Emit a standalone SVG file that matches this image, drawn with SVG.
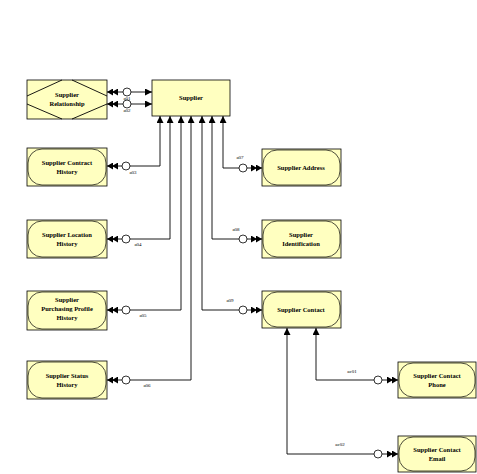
<svg xmlns="http://www.w3.org/2000/svg" width="477" height="474" viewBox="0 0 477 474">
<style>
.box{fill:#FFFFC0;stroke:#000;stroke-width:0.8}
.in{fill:#FFFFC0;stroke:#000;stroke-width:0.7}
.t{font-family:"Liberation Serif",serif;font-weight:bold;font-size:6.5px;text-anchor:middle;fill:#000}
.l{font-family:"Liberation Serif",serif;font-size:5px;text-anchor:middle;fill:#000}
.c{fill:none;stroke:#000;stroke-width:0.9}
.o{fill:#fff;stroke:#000;stroke-width:0.8}
</style>
<defs>
<marker id="dbl" viewBox="0 0 11 7" refX="11" refY="3.5" markerWidth="11" markerHeight="7" markerUnits="userSpaceOnUse" orient="auto-start-reverse">
<path d="M0,0 L6,3.5 L0,7 Z M5,0 L11,3.5 L5,7 Z" fill="#000"/>
</marker>
<marker id="one" viewBox="0 0 7 7" refX="7" refY="3.5" markerWidth="7" markerHeight="7" markerUnits="userSpaceOnUse" orient="auto-start-reverse">
<path d="M0,0 L7,3.5 L0,7 Z" fill="#000"/>
</marker>
</defs>
<rect width="477" height="474" fill="#fff"/>
<g id="connectors">
<path class="c" d="M107,92 L152,92" marker-start="url(#dbl)" marker-end="url(#one)"/>
<circle class="o" cx="127" cy="92" r="4"/>
<text class="l" x="127" y="100">a01</text>
<path class="c" d="M107,104 L152,104" marker-start="url(#dbl)" marker-end="url(#one)"/>
<circle class="o" cx="127" cy="104" r="4"/>
<text class="l" x="127" y="112">a02</text>
<path class="c" d="M160,116 L160,166 L107,166" marker-start="url(#one)" marker-end="url(#dbl)"/>
<circle class="o" cx="126" cy="166" r="4"/>
<text class="l" x="133" y="174">a03</text>
<path class="c" d="M170,116 L170,239 L107,239" marker-start="url(#one)" marker-end="url(#dbl)"/>
<circle class="o" cx="126" cy="239" r="4"/>
<text class="l" x="138" y="246">a04</text>
<path class="c" d="M181,116 L181,310 L107,310" marker-start="url(#one)" marker-end="url(#dbl)"/>
<circle class="o" cx="126" cy="310" r="4"/>
<text class="l" x="143" y="317">a05</text>
<path class="c" d="M191,116 L191,380 L107,380" marker-start="url(#one)" marker-end="url(#dbl)"/>
<circle class="o" cx="126" cy="380" r="4"/>
<text class="l" x="147" y="387">a06</text>
<path class="c" d="M223,116 L223,168 L262,168" marker-start="url(#one)" marker-end="url(#dbl)"/>
<circle class="o" cx="243" cy="168" r="4"/>
<text class="l" x="240" y="159">a07</text>
<path class="c" d="M212,116 L212,239 L262,239" marker-start="url(#one)" marker-end="url(#dbl)"/>
<circle class="o" cx="243" cy="239" r="4"/>
<text class="l" x="236" y="231">a08</text>
<path class="c" d="M202,116 L202,310 L262,310" marker-start="url(#one)" marker-end="url(#dbl)"/>
<circle class="o" cx="243" cy="310" r="4"/>
<text class="l" x="230" y="302">a09</text>
<path class="c" d="M316,328 L316,380 L398,380" marker-start="url(#one)" marker-end="url(#dbl)"/>
<circle class="o" cx="378" cy="380" r="4"/>
<text class="l" x="352" y="373">ac01</text>
<path class="c" d="M287,328 L287,454 L398,454" marker-start="url(#one)" marker-end="url(#dbl)"/>
<circle class="o" cx="378" cy="454" r="4"/>
<text class="l" x="340" y="446">ac02</text>
</g>
<g id="supplier-relationship">
<rect class="box" x="27" y="80" width="80" height="39"/>
<path class="c" d="M27,96 L62,80 M72,80 L107,96 M27,104 L62,119 M72,119 L107,104"/>
<text class="t" x="67" y="97">Supplier</text>
<text class="t" x="67" y="106">Relationship</text>
</g>
<g id="supplier">
<rect class="box" x="152" y="80" width="78" height="36"/>
<text class="t" x="191" y="100">Supplier</text>
</g>
<g id="supplier-contract-history">
<rect class="box" x="27" y="148" width="80" height="38"/>
<rect class="in" x="28" y="149" width="78" height="36" rx="14"/>
<text class="t" x="67" y="165">Supplier Contract</text>
<text class="t" x="67" y="174">History</text>
</g>
<g id="supplier-location-history">
<rect class="box" x="27" y="220" width="80" height="38"/>
<rect class="in" x="28" y="221" width="78" height="36" rx="14"/>
<text class="t" x="67" y="237">Supplier Location</text>
<text class="t" x="67" y="246">History</text>
</g>
<g id="supplier-purchasing-profile-history">
<rect class="box" x="27" y="291" width="80" height="39"/>
<rect class="in" x="28" y="292" width="78" height="37" rx="14"/>
<text class="t" x="67" y="302">Supplier</text>
<text class="t" x="67" y="311">Purchasing Profile</text>
<text class="t" x="67" y="320">History</text>
</g>
<g id="supplier-status-history">
<rect class="box" x="27" y="361" width="80" height="38"/>
<rect class="in" x="28" y="362" width="78" height="36" rx="14"/>
<text class="t" x="67" y="378">Supplier Status</text>
<text class="t" x="67" y="387">History</text>
</g>
<g id="supplier-address">
<rect class="box" x="262" y="149" width="79" height="37"/>
<rect class="in" x="263" y="150" width="77" height="35" rx="14"/>
<text class="t" x="301" y="170">Supplier Address</text>
</g>
<g id="supplier-identification">
<rect class="box" x="262" y="220" width="79" height="38"/>
<rect class="in" x="263" y="221" width="77" height="36" rx="14"/>
<text class="t" x="301" y="237">Supplier</text>
<text class="t" x="301" y="246">Identification</text>
</g>
<g id="supplier-contact">
<rect class="box" x="262" y="291" width="79" height="37"/>
<rect class="in" x="263" y="292" width="77" height="35" rx="14"/>
<text class="t" x="301" y="312">Supplier Contact</text>
</g>
<g id="supplier-contact-phone">
<rect class="box" x="398" y="362" width="78" height="36"/>
<rect class="in" x="399" y="363" width="76" height="34" rx="14"/>
<text class="t" x="437" y="378">Supplier Contact</text>
<text class="t" x="437" y="387">Phone</text>
</g>
<g id="supplier-contact-email">
<rect class="box" x="398" y="436" width="78" height="36"/>
<rect class="in" x="399" y="437" width="76" height="34" rx="14"/>
<text class="t" x="437" y="452">Supplier Contact</text>
<text class="t" x="437" y="461">Email</text>
</g>
</svg>
